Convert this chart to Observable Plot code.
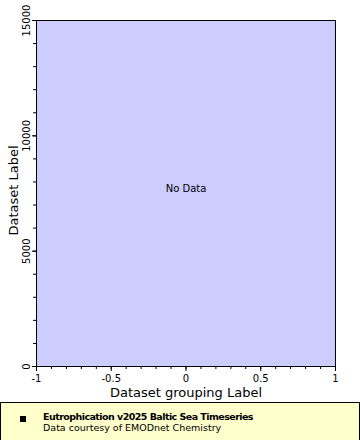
<!DOCTYPE html>
<html>
<head>
<meta charset="utf-8">
<script src="https://cdn.jsdelivr.net/npm/d3@7"></script>
<script src="https://cdn.jsdelivr.net/npm/@observablehq/plot@0.6"></script>
<style>
  html, body { margin: 0; padding: 0; background: #ffffff; }
  body { width: 360px; height: 440px; overflow: hidden; font-family: "DejaVu Sans", sans-serif; position: relative; }
  #chart svg { display: block; }
  #legend {
    position: absolute; left: 0; top: 402px; width: 358px; height: 40px;
    background: #ffffcc; border: 1px solid #000; box-sizing: content-box;
  }
  #legend .marker { position: absolute; left: 19px; top: 13px; width: 6px; height: 6px; background: #000; }
  #legend .t1 { position: absolute; left: 42px; top: 9px; font-size: 9.5px; font-weight: bold; letter-spacing: -0.55px; line-height: 10px; white-space: nowrap; }
  #legend .t2 { position: absolute; left: 42px; top: 19.5px; font-size: 9.5px; line-height: 10px; white-space: nowrap; }
</style>
</head>
<body>
<div id="chart"></div>
<div id="legend">
  <div class="marker"></div>
  <div class="t1" id="lt1"></div>
  <div class="t2" id="lt2"></div>
</div>
<script>
// Axis domains and tick labels
const xDomain = [-1, 1];
const yDomain = [0, 15000];
const xMajorTicks = [-1, -0.5, 0, 0.5, 1];
const xTickLabels = ["-1", "-0.5", "0", "0.5", "1"];
const xMinorTicks = [-1, -0.9, -0.8, -0.7, -0.6, -0.5, -0.4, -0.3, -0.2, -0.1, 0, 0.1, 0.2, 0.3, 0.4, 0.5, 0.6, 0.7, 0.8, 0.9, 1];
const yMajorTicks = [0, 5000, 10000, 15000];
const yTickLabels = ["0", "5000", "10000", "15000"];
const yMinorTicks = [0, 1000, 2000, 3000, 4000, 5000, 6000, 7000, 8000, 9000, 10000, 11000, 12000, 13000, 14000, 15000];
const xLabel = "Dataset grouping Label";
const yLabel = "Dataset Label";
const noDataText = "No Data";
const legendTitle = "Eutrophication v2025 Baltic Sea Timeseries";
const legendSubtitle = "Data courtesy of EMODnet Chemistry";

const chart = Plot.plot({
  width: 360,
  height: 400,
  marginLeft: 36,
  marginRight: 25,
  marginTop: 20,
  marginBottom: 34,
  style: { fontFamily: "DejaVu Sans, sans-serif", fontSize: "10px", color: "#000", background: "#fff" },
  x: { domain: xDomain },
  y: { domain: yDomain },
  marks: [
    Plot.frame({ fill: "#ccccff", stroke: "#000" }),
    Plot.axisX({ ticks: xMinorTicks, tickSize: 3, text: null, label: null }),
    Plot.axisX({ ticks: xMajorTicks, tickSize: 5, tickPadding: 3, tickFormat: (d, i) => xTickLabels[i], label: null, fontSize: 10 }),
    Plot.axisY({ ticks: yMinorTicks, tickSize: 3, text: null, label: null }),
    Plot.axisY({ ticks: yMajorTicks, tickSize: 4, text: null, label: null }),
    Plot.text(yMajorTicks, {
      y: d => d, text: (d, i) => yTickLabels[i], frameAnchor: "left",
      rotate: -90, textAnchor: "middle", lineAnchor: "bottom", dx: -7, fontSize: 10
    }),
    Plot.text([xLabel], { text: d => d, frameAnchor: "bottom", textAnchor: "middle", lineAnchor: "middle", dy: 26, fontSize: 13 }),
    Plot.text([yLabel], { text: d => d, frameAnchor: "left", rotate: -90, textAnchor: "middle", lineAnchor: "middle", dx: -23, dy: -3, fontSize: 13 }),
    Plot.text([noDataText], { text: d => d, frameAnchor: "middle", textAnchor: "middle", dy: -5, fontSize: 10 })
  ]
});
document.getElementById("chart").appendChild(chart);
document.getElementById("lt1").textContent = legendTitle;
document.getElementById("lt2").textContent = legendSubtitle;
</script>
</body>
</html>
